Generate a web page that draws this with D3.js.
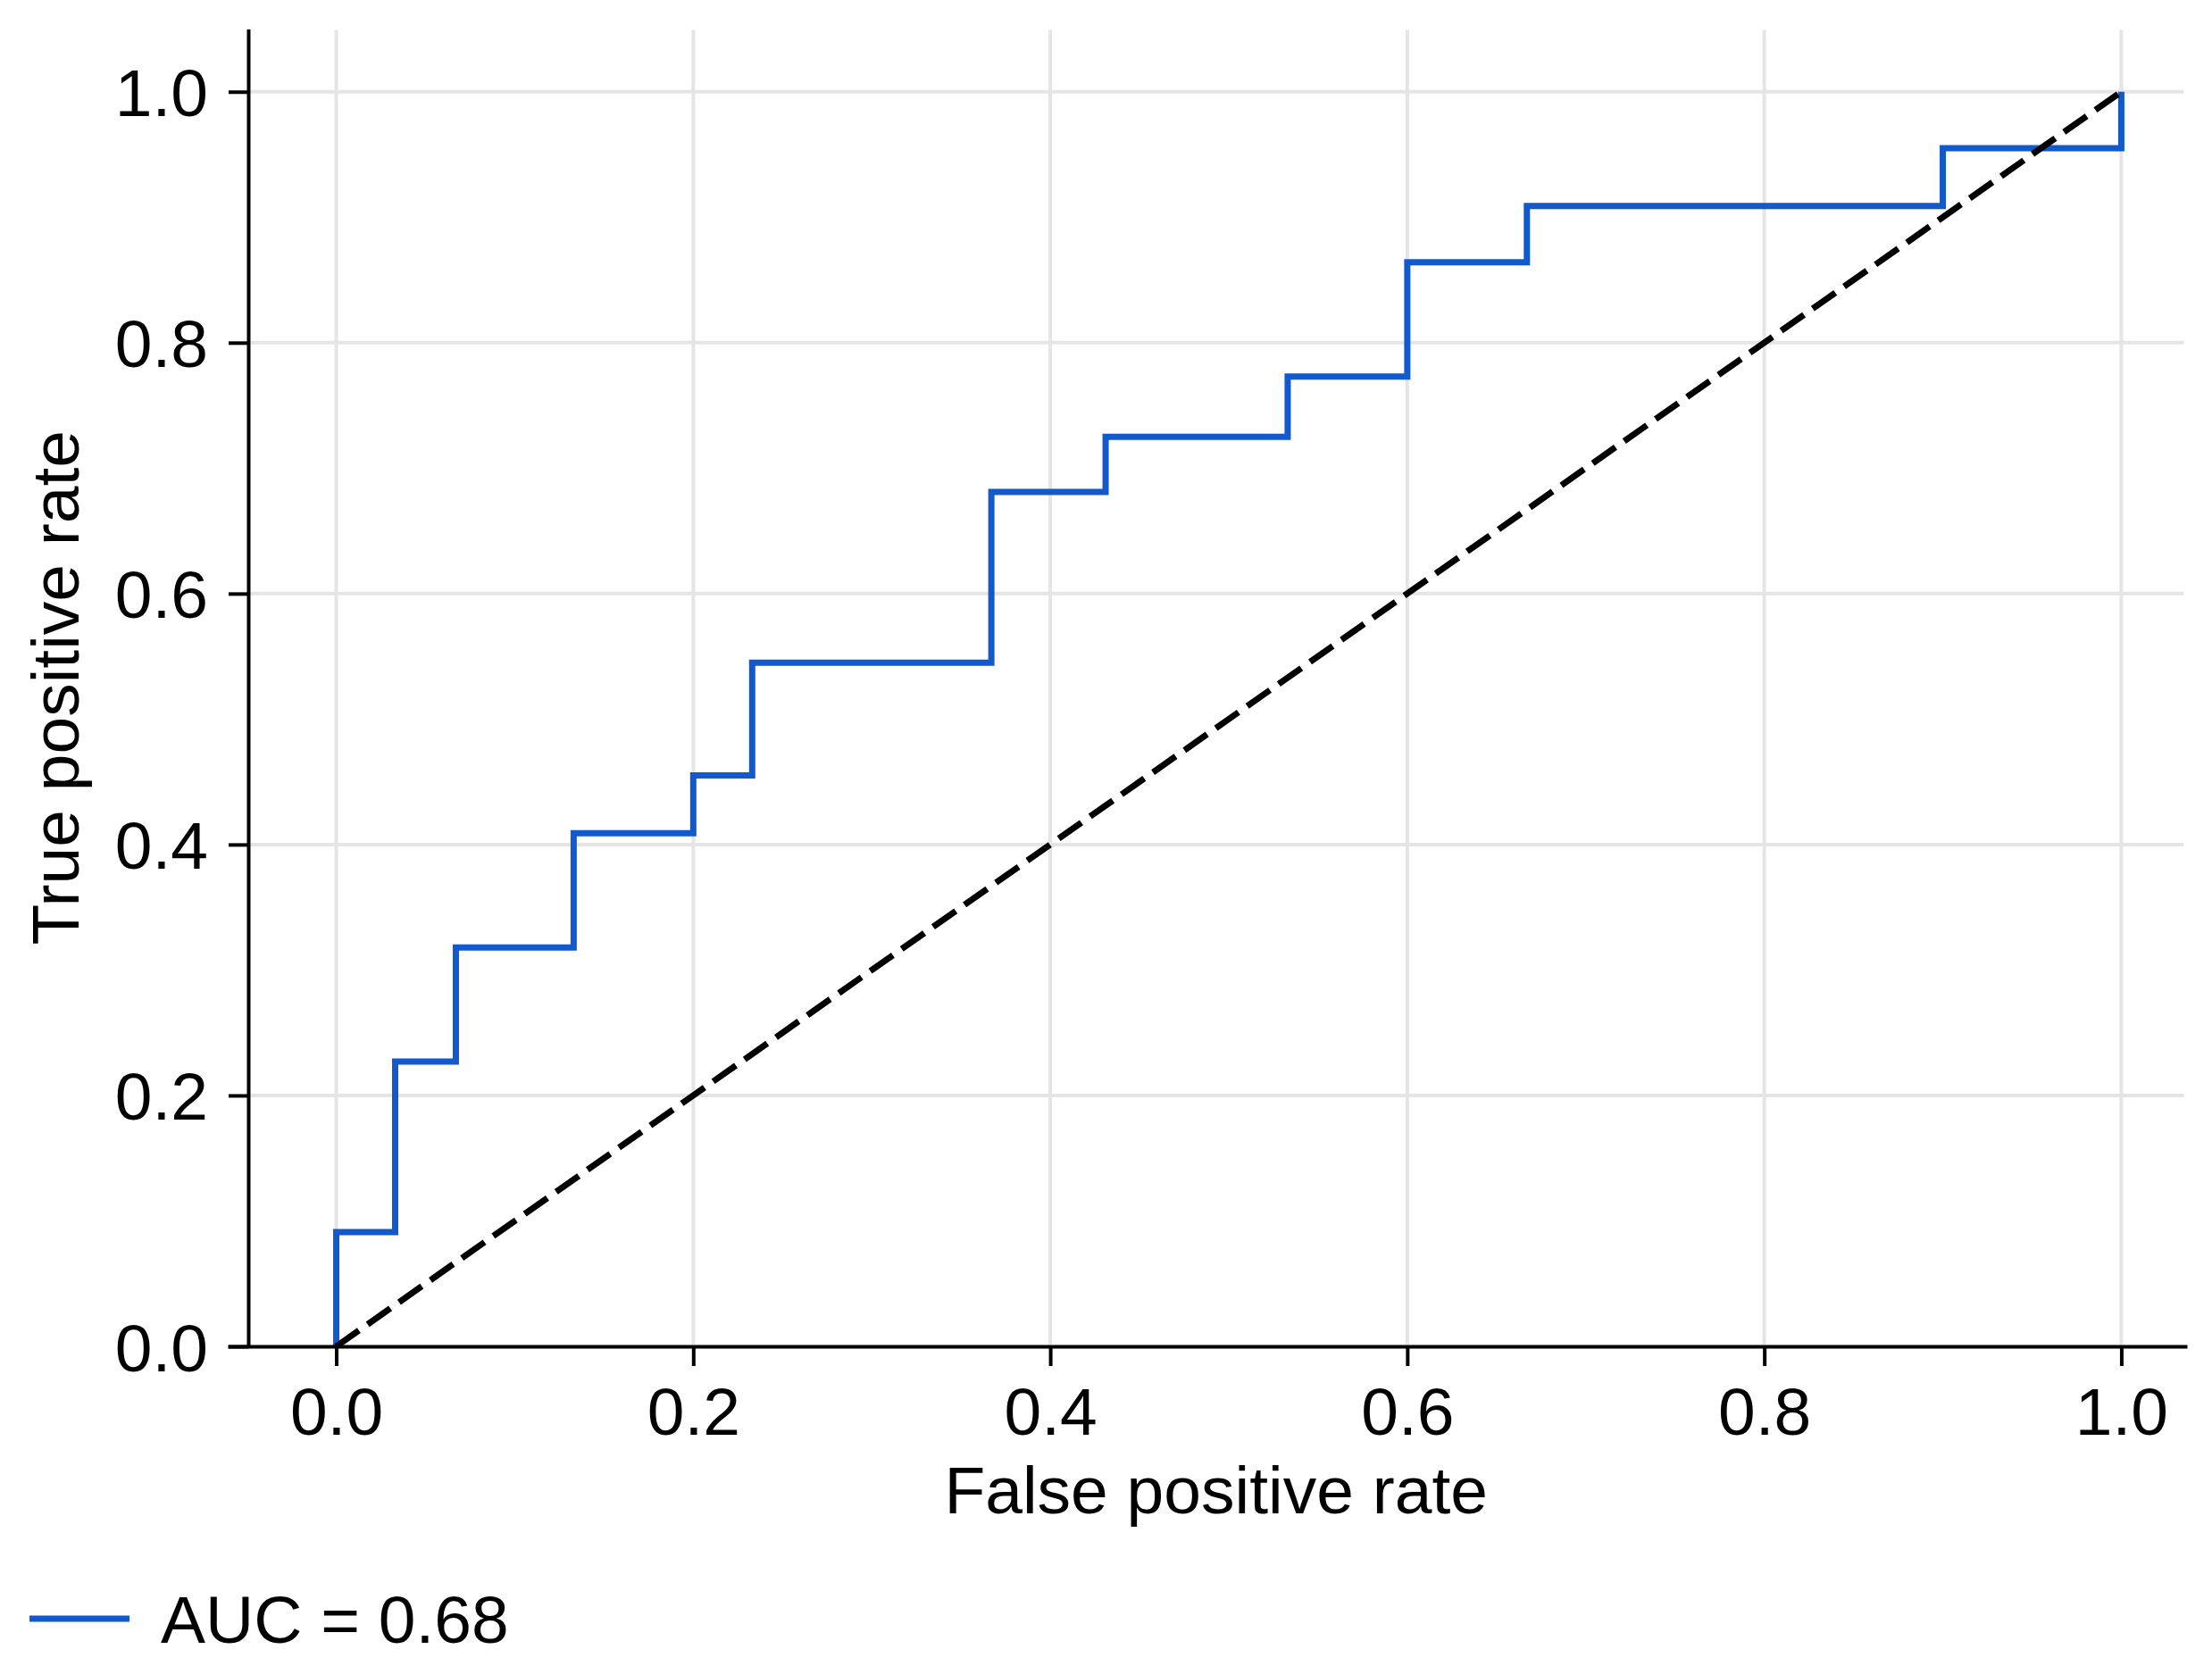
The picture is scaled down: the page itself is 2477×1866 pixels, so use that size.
<!DOCTYPE html>
<html>
<head>
<meta charset="utf-8">
<script src="https://cdn.jsdelivr.net/npm/d3@7"></script>
<style>
  html, body { margin: 0; padding: 0; background: #ffffff; }
  svg { display: block; }
  text { font-family: "Liberation Sans", Arial, Helvetica, sans-serif; fill: #000; }
</style>
</head>
<body>
<script>
// ---- data ----
const fpr = [0, 0, 0.033, 0.033, 0.067, 0.067, 0.133, 0.133, 0.2, 0.2, 0.233, 0.233, 0.367, 0.367, 0.431, 0.431, 0.533, 0.533, 0.6, 0.6, 0.667, 0.667, 0.9, 0.9, 1.0, 1.0];
const tpr = [0, 0.091, 0.091, 0.227, 0.227, 0.318, 0.318, 0.409, 0.409, 0.455, 0.455, 0.545, 0.545, 0.681, 0.681, 0.725, 0.725, 0.773, 0.773, 0.864, 0.864, 0.909, 0.909, 0.955, 0.955, 1.0];
const chanceX = [0, 1];
const chanceY = [0, 1];
const xTicks = [0, 0.2, 0.4, 0.6, 0.8, 1.0];
const yTicks = [0, 0.2, 0.4, 0.6, 0.8, 1.0];
const xLabel = "False positive rate";
const yLabel = "True positive rate";
const legendLabel = "AUC = 0.68";

// ---- layout ----
const W = 2477, H = 1866;
const FONT = 75;
const BLUE = "#1259cc";

const svg = d3.select("body").append("svg")
  .attr("width", W).attr("height", H)
  .attr("viewBox", `0 0 ${W} ${H}`);
svg.append("rect").attr("width", W).attr("height", H).attr("fill", "#fff");

const x = d3.scaleLinear().domain([-0.0608, 1.0368]).range([255, 2449]);
const y = d3.scaleLinear().domain([0, 1.05]).range([1508, 32.5]);
const yAxisX = x(-0.0493);
const gridRight = x(1.035);

// gridlines
const grid = svg.append("g");
grid.selectAll("line.vg").data(xTicks).join("line")
  .attr("x1", d => x(d)).attr("x2", d => x(d))
  .attr("y1", y(0)).attr("y2", y(1.05) + 1)
  .attr("stroke", "#e5e5e5").attr("stroke-width", 4);
grid.selectAll("line.hg").data(yTicks).join("line")
  .attr("x1", yAxisX).attr("x2", gridRight)
  .attr("y1", d => y(d)).attr("y2", d => y(d))
  .attr("stroke", "#e5e5e5").attr("stroke-width", 4);

// ROC curve
const pts = fpr.map((f, i) => [f, tpr[i]]);
const line = d3.line().x(d => x(d[0])).y(d => y(d[1]));
svg.append("path").datum(pts)
  .attr("d", line)
  .attr("fill", "none")
  .attr("stroke", BLUE)
  .attr("stroke-width", 7)
  .attr("stroke-linejoin", "miter");

// chance diagonal
svg.append("path").datum(chanceX.map((v, i) => [v, chanceY[i]]))
  .attr("d", line)
  .attr("fill", "none")
  .attr("stroke", "#000")
  .attr("stroke-width", 7)
  .attr("stroke-dasharray", "31,12");

// axes
const fmt = d3.format(".1f");
const xAxis = svg.append("g")
  .attr("transform", `translate(0,${y(0)})`)
  .call(d3.axisBottom(x).tickValues(xTicks).tickFormat(fmt).tickSize(22).tickSizeOuter(0));
xAxis.select(".domain").attr("stroke", "#000").attr("stroke-width", 4);
xAxis.selectAll(".tick line").attr("stroke", "#000").attr("stroke-width", 4);
xAxis.selectAll(".tick text")
  .attr("y", 99).attr("dy", 0)
  .style("font-size", FONT + "px")
  .style("font-family", '"Liberation Sans", Arial, sans-serif')
  .attr("fill", "#000");

const yAxis = svg.append("g")
  .attr("transform", `translate(${yAxisX},0)`)
  .call(d3.axisLeft(y).tickValues(yTicks).tickFormat(fmt).tickSize(22).tickSizeOuter(0));
yAxis.select(".domain").attr("stroke", "#000").attr("stroke-width", 4);
yAxis.selectAll(".tick line").attr("stroke", "#000").attr("stroke-width", 4);
yAxis.selectAll(".tick text")
  .attr("x", -45).attr("dy", "0.36em")
  .style("font-size", FONT + "px")
  .style("font-family", '"Liberation Sans", Arial, sans-serif')
  .attr("fill", "#000");

// axis labels
svg.append("text")
  .attr("x", (yAxisX + gridRight) / 2)
  .attr("y", 1695)
  .attr("text-anchor", "middle")
  .style("font-size", FONT + "px")
  .text(xLabel);

svg.append("text")
  .attr("transform", `translate(88,${(y(0) + y(1.05)) / 2}) rotate(-90)`)
  .attr("text-anchor", "middle")
  .style("font-size", FONT + "px")
  .text(yLabel);

// legend
const lg = svg.append("g");
lg.append("line")
  .attr("x1", 33).attr("x2", 145)
  .attr("y1", 1813).attr("y2", 1813)
  .attr("stroke", BLUE).attr("stroke-width", 7);
lg.append("text")
  .attr("x", 180).attr("y", 1840)
  .style("font-size", FONT + "px")
  .text(legendLabel);
</script>
</body>
</html>
